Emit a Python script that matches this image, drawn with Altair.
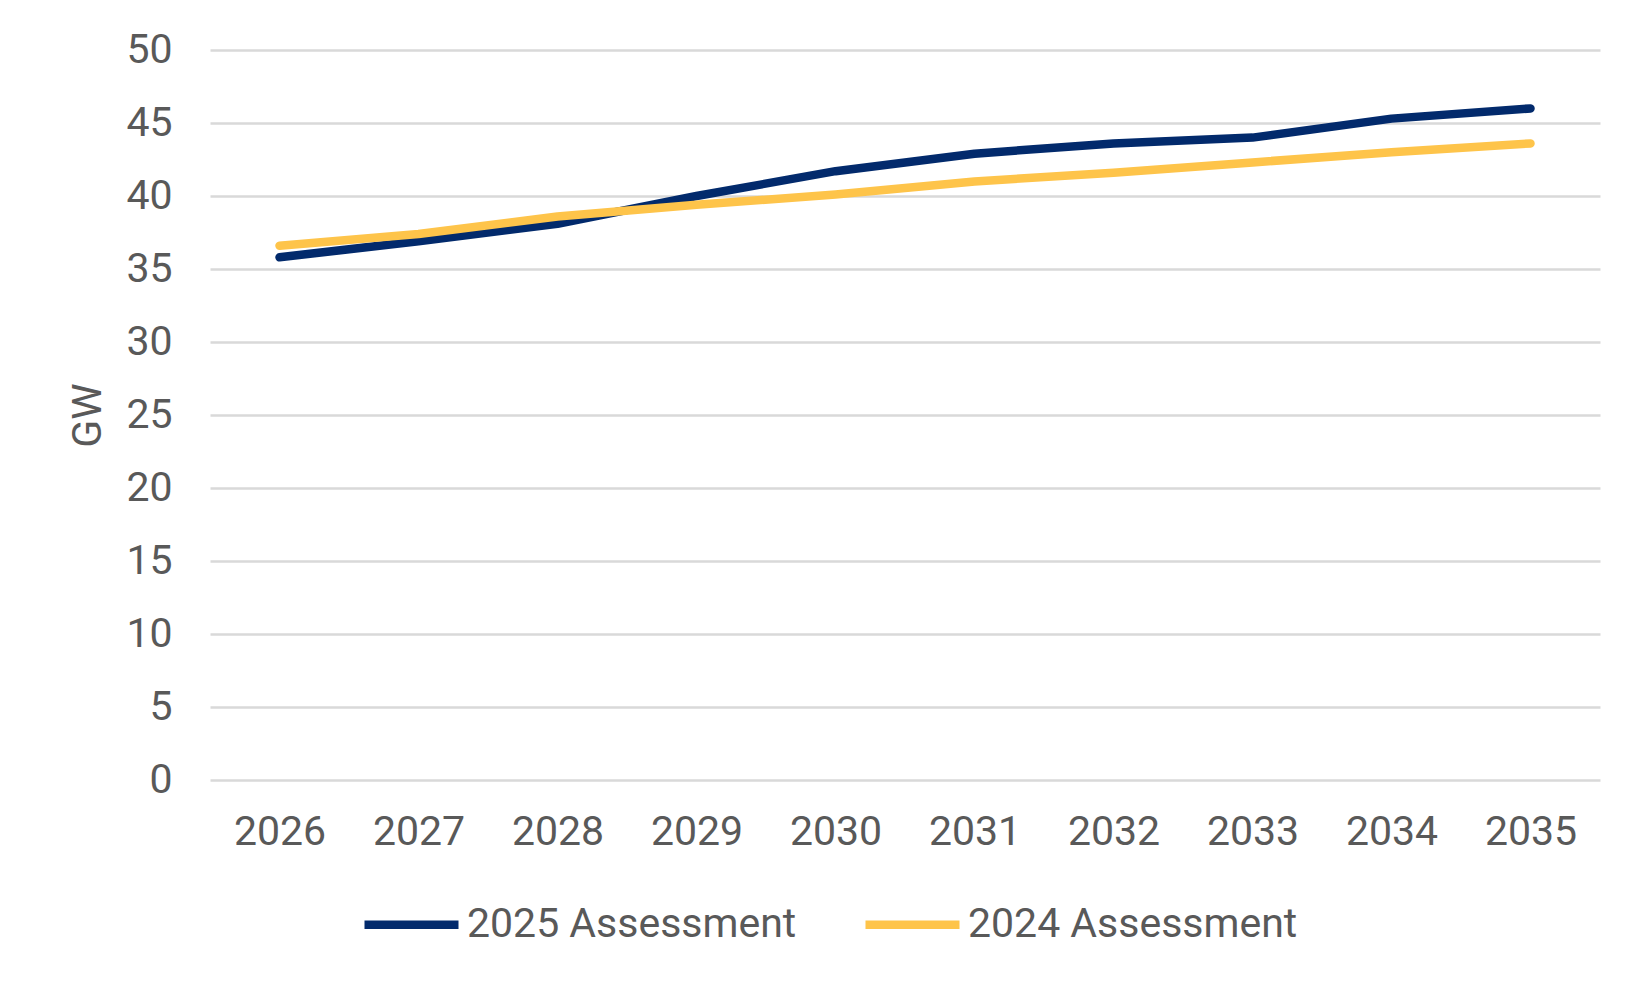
import altair as alt
import pandas as pd

years = [2026, 2027, 2028, 2029, 2030, 2031, 2032, 2033, 2034, 2035]
assess_2025 = [35.8, 36.9, 38.1, 40.0, 41.7, 42.9, 43.6, 44.0, 45.3, 46.0]
assess_2024 = [36.6, 37.4, 38.6, 39.4, 40.1, 41.0, 41.6, 42.3, 43.0, 43.6]
series_names = ["2025 Assessment", "2024 Assessment"]
series_colors = ["#022A6C", "#FEC44A"]
y_ticks = [0, 5, 10, 15, 20, 25, 30, 35, 40, 45, 50]

rows = []
for name, vals in zip(series_names, [assess_2025, assess_2024]):
    for yr, v in zip(years, vals):
        rows.append({"Year": str(yr), "Value": v, "Series": name})
df = pd.DataFrame(rows)

FONT = "Roboto"
GRAY = "#595959"

chart = alt.Chart(df).mark_line(strokeWidth=8.5, strokeCap="round", strokeJoin="round").encode(
    x=alt.X("Year:O", scale=alt.Scale(type="point", padding=0.5),
            axis=alt.Axis(title=None, labelAngle=0, domain=False, ticks=False, grid=False,
                          labelPadding=32, labelFontSize=41, labelFont=FONT, labelColor=GRAY)),
    y=alt.Y("Value:Q", scale=alt.Scale(domain=[0, 50], nice=False, zero=True),
            axis=alt.Axis(title="GW", values=y_ticks, domain=False, ticks=False, grid=True,
                          gridColor="#D9D9D9", gridWidth=2.5,
                          labelPadding=38, labelFontSize=41, labelFont=FONT, labelColor=GRAY,
                          titleFontSize=41, titleFont=FONT, titleColor=GRAY, titleFontWeight="normal",
                          titlePadding=16)),
    color=alt.Color("Series:N", scale=alt.Scale(domain=series_names, range=series_colors),
                    sort=series_names,
                    legend=alt.Legend(title=None, orient="none", legendX=150, legendY=823,
                                      direction="horizontal", symbolType="stroke",
                                      symbolSize=8836, symbolStrokeWidth=8.5,
                                      labelFontSize=41, labelFont=FONT, labelColor=GRAY,
                                      labelLimit=0, columnPadding=51, labelOffset=4, padding=0)),
).properties(
    width=1390, height=730,
    autosize=alt.AutoSizeParams(type="none"),
    padding={"left": 202, "top": 42, "right": 10, "bottom": 200},
).configure_view(stroke=None)

chart.save("out.html", embed_options={"renderer": "svg", "actions": False})
